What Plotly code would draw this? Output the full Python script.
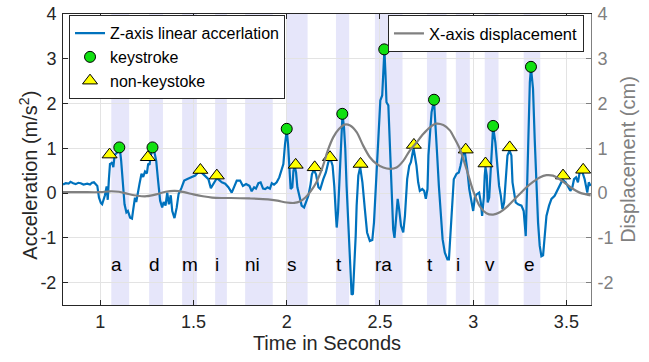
import plotly.graph_objects as go

# ---- Z-axis linear acceleration (m/s^2) ----
acc_t = [0.800, 0.815, 0.830, 0.840, 0.855, 0.868, 0.882, 0.895, 0.910, 0.930, 0.945, 0.955, 0.966,
         0.975, 0.984, 0.993, 1.003, 1.010, 1.018, 1.025, 1.034, 1.040, 1.046, 1.052, 1.058, 1.063,
         1.070, 1.077, 1.084, 1.091, 1.100, 1.106, 1.112, 1.120, 1.130, 1.140, 1.148, 1.160, 1.170,
         1.177, 1.186, 1.193, 1.204, 1.210, 1.221, 1.230, 1.240, 1.250, 1.257, 1.264, 1.270, 1.279,
         1.290, 1.300, 1.310, 1.321, 1.332, 1.340, 1.350, 1.359, 1.368, 1.378, 1.386, 1.398, 1.410,
         1.420, 1.435, 1.450, 1.470, 1.490, 1.509, 1.520, 1.530, 1.545, 1.562, 1.580, 1.593, 1.600,
         1.616, 1.625, 1.635, 1.652, 1.670, 1.687, 1.705, 1.720, 1.732, 1.750, 1.765, 1.782, 1.800,
         1.812, 1.825, 1.835, 1.848, 1.860, 1.873, 1.884, 1.897, 1.910, 1.920, 1.932, 1.946, 1.960,
         1.973, 1.982, 1.991, 2.000, 2.007, 2.014, 2.021, 2.030, 2.036, 2.043, 2.050, 2.057, 2.068,
         2.080, 2.093, 2.104, 2.116, 2.128, 2.135, 2.145, 2.157, 2.170, 2.180, 2.196, 2.210, 2.223,
         2.235, 2.246, 2.255, 2.264, 2.268, 2.275, 2.282, 2.289, 2.296, 2.299, 2.307, 2.314, 2.321,
         2.330, 2.339, 2.348, 2.355, 2.362, 2.370, 2.375, 2.384, 2.394, 2.406, 2.419, 2.431, 2.446,
         2.459, 2.468, 2.479, 2.487, 2.496, 2.502, 2.512, 2.520, 2.524, 2.530, 2.535, 2.545, 2.553,
         2.562, 2.571, 2.578, 2.585, 2.595, 2.603, 2.613, 2.625, 2.634, 2.646, 2.657, 2.666, 2.680,
         2.687, 2.696, 2.705, 2.714, 2.727, 2.737, 2.746, 2.755, 2.760, 2.768, 2.777, 2.790, 2.798,
         2.807, 2.816, 2.825, 2.836, 2.848, 2.862, 2.870, 2.878, 2.886, 2.896, 2.911, 2.923, 2.932,
         2.943, 2.955, 2.968, 2.979, 2.991, 3.000, 3.009, 3.018, 3.032, 3.041, 3.048, 3.057, 3.062,
         3.066, 3.073, 3.078, 3.086, 3.093, 3.101, 3.107, 3.119, 3.128, 3.139, 3.148, 3.157, 3.166,
         3.175, 3.184, 3.195, 3.205, 3.211, 3.220, 3.228, 3.241, 3.259, 3.271, 3.282, 3.289, 3.296,
         3.304, 3.310, 3.321, 3.330, 3.339, 3.348, 3.357, 3.366, 3.375, 3.384, 3.393, 3.407, 3.420,
         3.437, 3.455, 3.467, 3.480, 3.496, 3.509, 3.521, 3.532, 3.541, 3.552, 3.562, 3.571, 3.585,
         3.598, 3.612, 3.620, 3.630]
acc_v = [0.19, 0.22, 0.21, 0.25, 0.22, 0.20, 0.23, 0.22, 0.19, 0.21, 0.19, 0.23, 0.24,
         0.20, 0.16, -0.10, -0.22, -0.25, -0.15, -0.05, 0.15, -0.15, 0.30, 0.65, 0.66, 0.69,
         0.58, 0.85, 0.88, 0.91, 1.00, 0.95, 0.72, 0.28, -0.25, -0.43, -0.40, -0.55, -0.57,
         -0.36, -0.10, -0.20, 0.13, 0.20, 0.43, 0.36, 0.48, 0.44, 0.66, 0.63, 0.82, 1.00,
         0.92, 0.72, 0.28, -0.17, -0.32, -0.20, -0.28, 0.01, -0.25, -0.05, -0.40, -0.56, -0.32,
         -0.02, 0.11, 0.28, 0.32, 0.35, 0.39, 0.44, 0.50, 0.45, 0.39, 0.31, 0.11, 0.16,
         0.28, 0.33, 0.30, 0.24, 0.21, 0.13, 0.01, 0.16, 0.28, 0.28, 0.16, 0.20, 0.16,
         0.04, 0.13, 0.10, 0.22, 0.24, 0.10, 0.09, 0.13, 0.10, 0.22, 0.19, 0.24, 0.35,
         0.50, 0.65, 1.10, 1.40, 1.10, 0.57, 0.09, 0.13, 0.50, 0.60, 0.46, 0.13, -0.06,
         -0.28, -0.32, -0.20, -0.06, 0.20, 0.42, 0.52, 0.42, 0.13, 0.09, 0.31, 0.46, 0.69,
         0.76, 0.61, 0.16, -0.51, -0.77, -0.43, 0.31, 1.06, 1.58, 1.75, 1.48, 0.99, 0.16,
         -0.73, -1.70, -2.27, -2.25, -1.70, -0.95, -0.28, 0.39, 0.58, 0.24, -0.36, -0.88, -1.07,
         -1.05, -0.66, 0.16, 0.91, 1.66, 2.07, 2.18, 2.93, 3.20, 2.63, 2.03, 1.96, 1.13,
         0.16, -0.81, -1.00, -0.66, -0.13, -0.36, -0.73, -0.88, -0.51, 0.31, 0.61, 0.69, 1.00,
         0.84, 0.61, 0.24, 0.05, 0.09, 0.05, -0.13, 0.09, 0.84, 1.36, 1.81, 2.07, 1.58,
         0.84, 0.16, -0.51, -1.03, -1.33, -1.48, -1.48, -0.90, -0.13, 0.31, 0.43, 0.46, 0.61,
         0.84, 0.92, 0.54, 0.09, -0.21, -0.40, -0.10, -0.03, 0.01, -0.21, -0.51, -0.10, 0.39,
         0.58, 0.39, -0.21, -0.10, 0.54, 1.28, 1.48, 1.13, 0.61, 0.16, -0.05, -0.36, -0.21,
         0.39, 0.84, 0.95, 0.84, 0.24, -0.05, -0.21, -0.25, -0.28, -0.40, -0.96, 0.09, 1.58,
         2.48, 2.80, 2.33, 1.21, 0.09, -0.66, -1.18, -1.41, -1.39, -0.96, -0.51, -0.28, -0.13,
         -0.06, 0.09, 0.20, 0.30, 0.24, 0.13, 0.05, 0.13, 0.31, 0.35, 0.24, 0.46, 0.48,
         0.31, 0.01, 0.24, 0.16]

# ---- X-axis displacement (cm) ----
disp_t = [0.80, 0.90, 1.00, 1.05, 1.10, 1.15, 1.20, 1.25, 1.30, 1.35, 1.40, 1.45, 1.50, 1.55,
          1.60, 1.65, 1.70, 1.80, 1.90, 1.95, 2.00, 2.04, 2.07, 2.10, 2.13, 2.16, 2.19, 2.22,
          2.25, 2.28, 2.31, 2.34, 2.375, 2.41, 2.446, 2.482, 2.518, 2.553, 2.589, 2.625, 2.66,
          2.696, 2.732, 2.768, 2.80, 2.84, 2.875, 2.90, 2.928, 2.964, 3.00, 3.036, 3.071, 3.107,
          3.143, 3.178, 3.214, 3.25, 3.286, 3.321, 3.357, 3.393, 3.428, 3.464, 3.50, 3.536,
          3.571, 3.607, 3.63]
disp_v = [0.02, 0.02, 0.02, 0.04, 0.03, -0.02, -0.06, -0.07, -0.03, 0.03, 0.05, 0.02, -0.03, -0.07,
          -0.10, -0.11, -0.11, -0.12, -0.14, -0.17, -0.21, -0.22, -0.19, -0.10, 0.05, 0.25, 0.55, 0.95,
          1.25, 1.43, 1.53, 1.51, 1.36, 1.06, 0.80, 0.65, 0.57, 0.54, 0.57, 0.72, 0.95,
          1.13, 1.32, 1.47, 1.55, 1.52, 1.40, 1.22, 0.99, 0.54, 0.05, -0.30, -0.45, -0.48,
          -0.43, -0.32, -0.17, -0.02, 0.13, 0.25, 0.35, 0.40, 0.39, 0.31, 0.20, 0.09,
          0.01, -0.03, -0.05]

# ---- detected peaks ----
key_t = [1.102, 1.280, 2.000, 2.298, 2.523, 2.790, 3.107, 3.310]
key_v = [1.02, 1.02, 1.435, 1.77, 3.21, 2.085, 1.50, 2.82]

nonkey_t = [1.050, 1.255, 1.537, 1.625, 2.048, 2.150, 2.232, 2.396, 2.682, 2.960, 3.066, 3.196, 3.482, 3.590]
nonkey_v = [0.86, 0.80, 0.515, 0.39, 0.63, 0.575, 0.80, 0.65, 1.075, 0.97, 0.66, 1.02, 0.39, 0.52]

# ---- typed letters and their key-press intervals ----
letters = ["a", "d", "m", "i", "ni", "s", "t", "ra", "t", "i", "v", "e"]
band_start = [1.059, 1.262, 1.439, 1.616, 1.777, 2.000, 2.264, 2.473, 2.752, 2.907, 3.062, 3.271]
band_end = [1.155, 1.336, 1.518, 1.679, 1.925, 2.112, 2.335, 2.621, 2.857, 2.982, 3.136, 3.360]
letter_y = -1.6

x_ticks = [1, 1.5, 2, 2.5, 3, 3.5]
x_ticklabels = ["1", "1.5", "2", "2.5", "3", "3.5"]
y_ticks = [-2, -1, 0, 1, 2, 3, 4]
y_ticklabels = ["-2", "-1", "0", "1", "2", "3", "4"]

FONT = "Liberation Sans, Arial, Helvetica, sans-serif"
DARK = "#262626"
GRAY = "#808080"
BLUE = "#0072BD"

fig = go.Figure()

fig.add_trace(go.Scatter(
    x=acc_t, y=acc_v, mode="lines", name="Z-axis linear accerlation",
    line=dict(color=BLUE, width=2.2), legend="legend"))
fig.add_trace(go.Scatter(
    x=disp_t, y=disp_v, mode="lines", name="X-axis displacement",
    line=dict(color=GRAY, width=2.2, shape="spline", smoothing=0.8),
    yaxis="y2", legend="legend2"))
fig.add_trace(go.Scatter(
    x=key_t, y=key_v, mode="markers", name="keystroke",
    marker=dict(symbol="circle", size=11, color="#11E011", line=dict(color="black", width=1)),
    legend="legend"))
fig.add_trace(go.Scatter(
    x=nonkey_t, y=nonkey_v, mode="markers", name="non-keystoke",
    marker=dict(symbol="triangle-up", size=13, color="#FFFF00", line=dict(color="black", width=1)),
    legend="legend"))

shapes = []
annotations = []
for s, e, lab in zip(band_start, band_end, letters):
    shapes.append(dict(type="rect", xref="x", yref="paper", x0=s, x1=e, y0=0, y1=1,
                       fillcolor="#E6E6FA", line=dict(width=0), layer="between"))
    annotations.append(dict(x=s, y=letter_y, xref="x", yref="y", text=lab, showarrow=False,
                            xanchor="left", yanchor="middle", xshift=-2,
                            font=dict(family=FONT, size=19, color="black")))

# left axis title
annotations.append(dict(x=-0.066, y=0.445, xref="paper", yref="paper",
                        text="Acceleration (m/s<sup>2</sup>)", showarrow=False, textangle=-90,
                        xanchor="center", yanchor="middle",
                        font=dict(family=FONT, size=20, color=DARK)))

fig.update_layout(
    width=649, height=362,
    margin=dict(l=63, r=58, t=14, b=57, autoexpand=False),
    paper_bgcolor="white", plot_bgcolor="white",
    font=dict(family=FONT, size=18, color=DARK),
    shapes=shapes, annotations=annotations,
    xaxis=dict(range=[0.8, 3.632], tickvals=x_ticks, ticktext=x_ticklabels, automargin=False,
               ticks="inside", ticklen=5, tickcolor=DARK, showline=True, linecolor=DARK,
               linewidth=1, mirror="ticks", showgrid=True, gridcolor="#E3E3E3", zeroline=False,
               tickfont=dict(size=18, color=DARK), ticklabelstandoff=0,
               title=dict(text="Time in Seconds", font=dict(size=20, color=DARK), standoff=4)),
    yaxis=dict(range=[-2.5, 4], tickvals=y_ticks, ticktext=y_ticklabels, automargin=False,
               ticks="inside", ticklen=5, tickcolor=DARK,
               showline=True, linecolor=DARK, linewidth=1, showgrid=True, gridcolor="#E3E3E3",
               zeroline=False, tickfont=dict(size=18, color=DARK), ticklabelstandoff=2),
    yaxis2=dict(range=[-2.5, 4], tickvals=y_ticks, ticktext=y_ticklabels, automargin=False,
                overlaying="y", side="right",
                ticks="inside", ticklen=5, tickcolor=GRAY, showline=True, linecolor=GRAY,
                linewidth=1, showgrid=False, zeroline=False,
                tickfont=dict(size=18, color=GRAY), ticklabelstandoff=2,
                title=dict(text="Displacement (cm)", font=dict(size=20, color=GRAY), standoff=8)),
    legend=dict(x=0.0114, y=0.996, xanchor="left", yanchor="top", bgcolor="white",
                bordercolor=DARK, borderwidth=1, font=dict(size=16, color="black"),
                itemwidth=30, tracegroupgap=0),
    legend2=dict(x=0.9867, y=0.996, xanchor="right", yanchor="top", bgcolor="white",
                 bordercolor=DARK, borderwidth=1, font=dict(size=16.5, color="black"),
                 itemwidth=30),
)

fig.write_html("out.html")
